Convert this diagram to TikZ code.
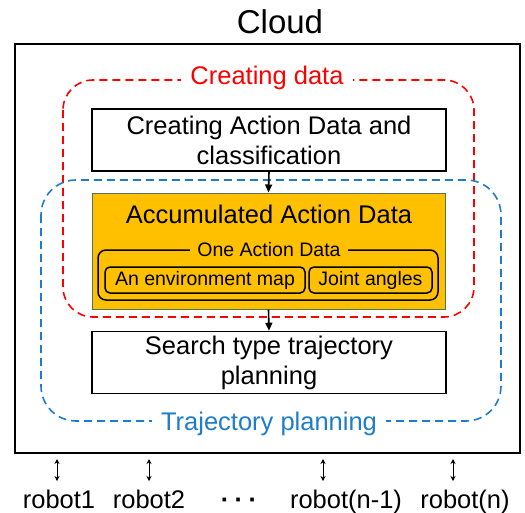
\documentclass[tikz,border=0pt]{standalone}
\usepackage{fontspec}
\setmainfont{Liberation Sans}
\usetikzlibrary{arrows.meta}
\definecolor{cdred}{RGB}{255,0,0}
\definecolor{tpblue}{RGB}{30,125,200}
\definecolor{accorange}{RGB}{255,192,0}
\definecolor{accedge}{RGB}{85,115,85}

\begin{document}
\begin{tikzpicture}[x=1pt,y=-1pt,
  bigtext/.style={font=\fontsize{25.5}{30}\selectfont},
  smalltext/.style={font=\fontsize{19.5}{22}\selectfont},
  procbox/.style={draw=black, line width=1.6pt, fill=white, minimum width=354pt,
    minimum height=62pt, align=center, inner sep=0pt, bigtext},
  phase/.style={dash pattern=on 8pt off 5pt, line width=1.6pt},
  phaselabel/.style={fill=white, inner xsep=9pt, inner ysep=2pt, bigtext},
  itembox/.style={draw=black, line width=1.5pt, rounded corners=5pt,
    minimum height=26pt, inner sep=0pt, smalltext},
  flow/.style={-{Triangle[length=8pt,width=7pt]}, line width=1.6pt},
  link/.style={{Stealth[length=5pt,width=5pt]}-{Stealth[length=5pt,width=5pt]}, line width=0.9pt},
  robot/.style={anchor=base, bigtext, inner sep=0pt}
]
\useasboundingbox (0,0) rectangle (525,512);

% cloud frame and title
\node[anchor=base, inner sep=0pt, font=\fontsize{33}{36}\selectfont] (cloud) at (280,33) {Cloud};
\node[draw=black, line width=1.6pt, minimum width=505pt, minimum height=409pt, inner sep=0pt]
  (frame) at (267.5,248.5) {};

% phase regions
\draw[phase, draw=cdred, rounded corners=30pt] (63,80) rectangle (474,317);
\draw[phase, draw=tpblue, rounded corners=35pt] (41,180) rectangle (501,421);
\node[phaselabel, text=cdred] (cdlabel) at (267,78) {Creating data};
\node[phaselabel, text=tpblue] (tplabel) at (269,424) {Trajectory planning};

% processing boxes
\node[procbox] (create) at (269,140) {Creating Action Data and\\classification};
\node[procbox] (search) at (269,362.5) {Search type trajectory\\planning};

% accumulated data store
\node[draw=accedge, line width=1pt, fill=accorange, minimum width=353pt,
  minimum height=116pt, inner sep=0pt] (acc) at (268.5,251) {};
\node[bigtext, inner sep=0pt] (acctitle) at (269,214) {Accumulated Action Data};
\node[draw=black, line width=1.5pt, rounded corners=8pt, minimum width=340pt,
  minimum height=50pt, inner sep=0pt] (one) at (268,275) {};
\node[smalltext, fill=accorange, inner xsep=7pt, inner ysep=1pt] (onelabel) at (269,250) {One Action Data};
\node[itembox, minimum width=200pt] (envmap) at (205,280) {An environment map};
\node[itembox, minimum width=123pt] (joints) at (370.5,280) {Joint angles};

% data flow
\draw[flow] (create.south) -- (acc.north);
\draw[flow] (acc.south) -- (search.north);

% robots below the cloud
\foreach \ax/\name in {57/r1, 149/r2, 323/rn1, 453/rn}{
  \coordinate (\name top) at (\ax,459);
  \coordinate (\name bot) at (\ax,481);
  \draw[link] (\name top) -- (\name bot);
}
\node[robot] (robot1) at (59,508) {robot1};
\node[robot] (robot2) at (149,508) {robot2};
\node[robot, font=\fontsize{25.5}{30}\selectfont\bfseries] (dots) at (239,508) {·\hspace{5.5pt}·\hspace{5.5pt}·};
\node[robot] (robotn1) at (346,508) {robot(n-1)};
\node[robot] (robotn) at (465,508) {robot(n)};
\end{tikzpicture}
\end{document}
